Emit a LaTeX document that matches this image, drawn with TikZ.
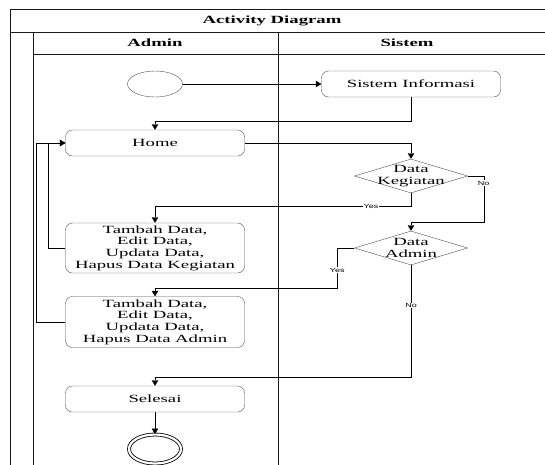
\documentclass[tikz,border=0pt]{standalone}
\usepackage{fontspec}
\setmainfont{Liberation Serif}[FakeStretch=1.7]
\newfontfamily\lblfont{Liberation Sans}[FakeStretch=1.5]
\usetikzlibrary{arrows.meta,positioning,shapes.geometric}
\definecolor{LaneLine}{HTML}{1A1A1A}
\definecolor{BoxLine}{HTML}{4D4D4D}

\begin{document}
\begin{tikzpicture}[x=1pt,y=-1pt,>={Triangle[length=5.5pt,width=6.5pt]},
  font=\fontsize{11}{11.7}\selectfont,
  act/.style={draw=BoxLine,rounded corners=7pt,minimum width=179pt,minimum height=26pt,align=center,inner sep=1pt},
  decision/.style={draw=BoxLine,diamond,minimum width=113pt,minimum height=34pt,inner sep=0pt},
  lbl/.style={font=\lblfont\fontsize{6}{6}\selectfont,fill=white,inner sep=0.6pt},
  flow/.style={->,thin,black}]
  \useasboundingbox (0,0) rectangle (545,464);
  \begin{scope}
    \clip (0,0) rectangle (545,464);
    \draw[LaneLine,line width=1pt] (10,470) -- (10,9.5) -- (560,9.5);
    \draw[LaneLine,line width=1pt] (10,32) -- (560,32);
    \draw[LaneLine,line width=1pt] (33,32) -- (33,470);
    \draw[LaneLine,line width=1pt] (278,32) -- (278,470);
    \draw[LaneLine,line width=0.6pt] (33,54) -- (560,54);
  \end{scope}
  \node (title) at (272,21) {\textbf{Activity Diagram}};
  \node (admin) at (155,43) {\textbf{Admin}};
  \node (sistem) at (407,43) {\textbf{Sistem}};

  \node[draw=BoxLine,ellipse,minimum width=55pt,minimum height=26pt] (start) at (155,84) {};
  \node[act] (si) at (411,84) {Sistem Informasi};
  \node[act] (hm) at (155,143) {Home};
  \node[decision,label={[align=center]center:Data\\Kegiatan}] (dk) at (411,176) {};
  \node[act,minimum height=50pt] (kg) at (155,248)
    {Tambah Data,\\Edit Data,\\Updata Data,\\Hapus Data Kegiatan};
  \node[decision,label={[align=center]center:Data\\Admin}] (da) at (411,248) {};
  \node[act,minimum height=51pt] (ad) at (155,322)
    {Tambah Data,\\Edit Data,\\Updata Data,\\Hapus Data Admin};
  \node[act] (se) at (155,399) {Selesai};
  \node[draw=black,line width=0.8pt,ellipse,double,double distance=2.2pt,minimum width=52pt,minimum height=29pt] (stop) at (155,449) {};

  \draw[flow] (start) -- (si);
  \draw[flow] (si.south) -- ++(0,24) -| (hm.north);
  \draw[flow] (hm.east) -| (dk.north);
  \draw[flow] (dk.south) -- ++(0,13) -| (kg.north) node[lbl,pos=0.078] {Yes};
  \draw[flow] (dk.east) -| ++(16,46) node[lbl,pos=0.576] {No} -| (da.north);
  \draw[flow] (kg.west) -- ++(-17,0) |- (hm.west);
  \draw[flow] (ad.west) -- ++(-29,0) |- (hm.west);
  \draw[flow] (da.west) -| ++(-17,40) node[lbl,pos=0.775] {Yes} -| (ad.north);
  \draw[flow] (da.south) -- ++(0,112) node[lbl,pos=0.36] {No} -| (se.north);
  \draw[flow] (se) -- (stop);
\end{tikzpicture}
\end{document}
